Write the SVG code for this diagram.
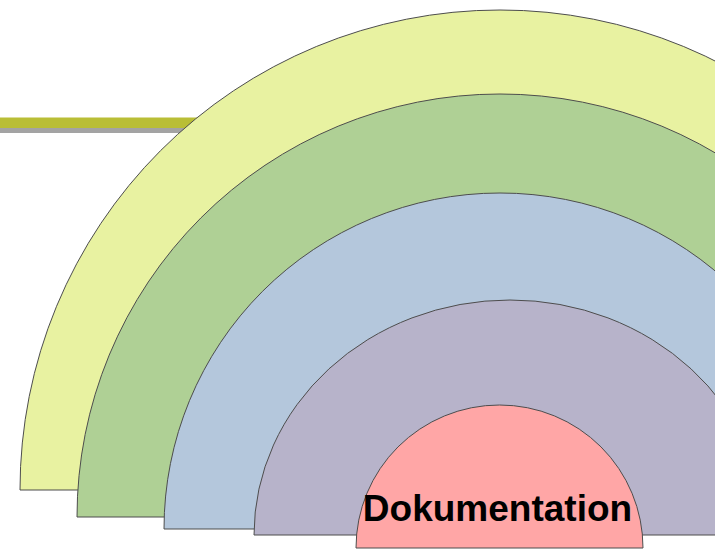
<svg xmlns="http://www.w3.org/2000/svg" width="715" height="551" viewBox="0 0 715 551">
  <style>
    .arc { stroke: #4d4d4d; stroke-width: 1; }
    .label { font-family: "Liberation Sans", Arial, sans-serif; font-weight: bold; font-size: 37px; fill: #000; }
  </style>
  <rect width="715" height="551" fill="#ffffff"/>
  <g id="bar">
    <rect x="0" y="128" width="300" height="5" fill="#a3a3a3"/>
    <rect x="0" y="117.5" width="300" height="10.5" fill="#b9be36"/>
  </g>
  <g id="ring-yellow">
    <path class="arc" d="M20,490 A480,480 0 0 1 980,490 Z" fill="#e8f2a1"/>
  </g>
  <g id="ring-green">
    <path class="arc" d="M77,517 A423,423 0 0 1 923,517 Z" fill="#afd095"/>
  </g>
  <g id="ring-blue">
    <path class="arc" d="M164,529 A336,336 0 0 1 836,529 Z" fill="#b4c7dc"/>
  </g>
  <g id="ring-purple">
    <path class="arc" d="M254,535 A256,235 0 0 1 766,535 Z" fill="#b7b3ca"/>
  </g>
  <g id="ring-pink">
    <path class="arc" d="M356,548 A143.5,143 0 0 1 643,548 Z" fill="#ffa6a6"/>
    <text class="label" x="497.5" y="521" text-anchor="middle">Dokumentation</text>
  </g>
  <g id="connectors"/>
</svg>
